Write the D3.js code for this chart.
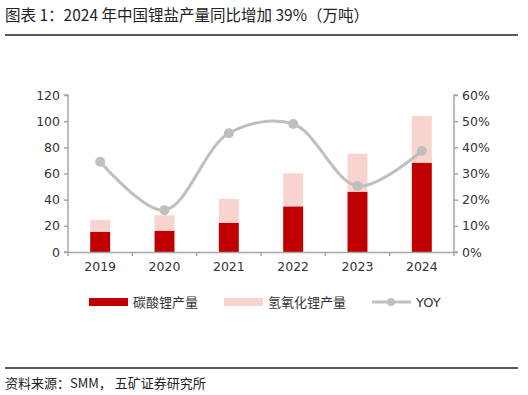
<!DOCTYPE html>
<html>
<head>
<meta charset="utf-8">
<script src="https://cdn.jsdelivr.net/npm/d3@7"></script>
<style>
    body { margin: 0; background: #fff; }
    svg { font-family: "Noto Sans CJK SC", "DejaVu Sans", sans-serif; }
    .axis text { font-family: "DejaVu Sans", sans-serif; font-size: 12.5px; fill: #333; }
</style>
</head>
<body>
<svg id="chart" width="528" height="395"></svg>
<script>
const years = ["2019", "2020", "2021", "2022", "2023", "2024"];
const carbonate = [15.5, 16.3, 22.4, 34.9, 46.1, 68.3];
const hydroxide = [9.0, 11.8, 18.2, 25.2, 29.0, 35.7];
const yoy = [0.345, 0.16, 0.454, 0.489, 0.252, 0.386];
const leftTicks = [0, 20, 40, 60, 80, 100, 120];
const rightTicks = [0, 0.1, 0.2, 0.3, 0.4, 0.5, 0.6];

const svg = d3.select("#chart");
const plotLeft = 68, plotRight = 454, plotTop = 95, plotBottom = 252;

// titre + source
svg.append("text").attr("x", 5).attr("y", 21)
    .style("font-size", "15.5px").attr("fill", "#222")
    .text("图表 1：2024 年中国锂盐产量同比增加 39%（万吨）");
svg.append("line").attr("x1", 5).attr("x2", 518).attr("y1", 35).attr("y2", 35)
    .attr("stroke", "#222").attr("stroke-width", 1.5);
svg.append("line").attr("x1", 5).attr("x2", 518).attr("y1", 368).attr("y2", 368)
    .attr("stroke", "#222").attr("stroke-width", 1.5);
svg.append("text").attr("x", 5).attr("y", 388)
    .style("font-size", "13px").attr("fill", "#222")
    .text("资料来源：SMM，  五矿证券研究所");

const x = d3.scaleBand().domain(years).range([plotLeft, plotRight]).padding(0);
const y = d3.scaleLinear().domain([0, 120]).range([plotBottom, plotTop]);
const y2 = d3.scaleLinear().domain([0, 0.6]).range([plotBottom, plotTop]);

const bw = x.bandwidth() * 0.31;
const stacked = years.map((yr, i) => ({ yr: yr, c: carbonate[i], h: hydroxide[i] }));

svg.selectAll(".bar-c")
    .data(stacked)
    .enter().append("rect")
    .attr("class", "bar-c")
    .attr("x", d => x(d.yr) + x.bandwidth() / 2 - bw / 2)
    .attr("width", bw)
    .attr("y", d => y(d.c))
    .attr("height", d => plotBottom - y(d.c))
    .attr("fill", "#c00000");

svg.selectAll(".bar-h")
    .data(stacked)
    .enter().append("rect")
    .attr("class", "bar-h")
    .attr("x", d => x(d.yr) + x.bandwidth() / 2 - bw / 2)
    .attr("width", bw)
    .attr("y", d => y(d.c + d.h))
    .attr("height", d => y(d.c) - y(d.c + d.h))
    .attr("fill", "#f9d3ce");

// axes
const axisColor = "#a6a6a6";
const gl = svg.append("g").attr("class", "axis")
    .attr("transform", "translate(" + plotLeft + ",0)")
    .call(d3.axisLeft(y).tickValues(leftTicks).tickSize(4).tickPadding(4));
const gr = svg.append("g").attr("class", "axis")
    .attr("transform", "translate(" + plotRight + ",0)")
    .call(d3.axisRight(y2).tickValues(rightTicks).tickSize(4).tickPadding(4)
        .tickFormat(d3.format(".0%")));
const gx = svg.append("g").attr("class", "axis")
    .attr("transform", "translate(0," + plotBottom + ")")
    .call(d3.axisBottom(x).tickSize(0).tickPadding(10));
gx.selectAll(".tick").append("line")
    .attr("x1", x.bandwidth() / 2).attr("x2", x.bandwidth() / 2)
    .attr("y1", 0).attr("y2", 4);
gx.append("line").attr("x1", plotLeft).attr("x2", plotLeft).attr("y1", 0).attr("y2", 4);
[gl, gr, gx].forEach(g => {
    g.selectAll("path, line").attr("stroke", axisColor).attr("stroke-width", 1.5);
});
gl.select(".domain").attr("d", "M-4," + plotTop + "H0V" + plotBottom + "H-4");
gr.select(".domain").attr("d", "M4," + plotTop + "H0V" + plotBottom + "H4");

// ligne YOY
const line = d3.line()
    .x((d, i) => x(years[i]) + x.bandwidth() / 2)
    .y(d => y2(d))
    .curve(d3.curveCatmullRom.alpha(0.5));
svg.append("path").datum(yoy)
    .attr("d", line)
    .attr("fill", "none")
    .attr("stroke", "#bfbfbf")
    .attr("stroke-width", 3);
svg.selectAll(".dot")
    .data(yoy)
    .enter().append("circle")
    .attr("class", "dot")
    .attr("cx", (d, i) => x(years[i]) + x.bandwidth() / 2)
    .attr("cy", d => y2(d))
    .attr("r", 5)
    .attr("fill", "#bfbfbf");

// légende
const ly = 302;
const lg = svg.append("g").style("font-size", "13px").attr("fill", "#333");
lg.append("rect").attr("x", 89).attr("y", ly - 4).attr("width", 39).attr("height", 8).attr("fill", "#c00000");
lg.append("text").attr("x", 133).attr("y", ly + 5).text("碳酸锂产量");
lg.append("rect").attr("x", 224).attr("y", ly - 4).attr("width", 39).attr("height", 8).attr("fill", "#f9d3ce");
lg.append("text").attr("x", 268).attr("y", ly + 5).text("氢氧化锂产量");
lg.append("line").attr("x1", 372).attr("x2", 411).attr("y1", ly).attr("y2", ly)
    .attr("stroke", "#bfbfbf").attr("stroke-width", 3);
lg.append("circle").attr("cx", 391).attr("cy", ly).attr("r", 4).attr("fill", "#bfbfbf");
lg.append("text").attr("x", 416).attr("y", ly + 5)
    .style("font-family", "DejaVu Sans, sans-serif").text("YOY");
</script>
</body>
</html>
